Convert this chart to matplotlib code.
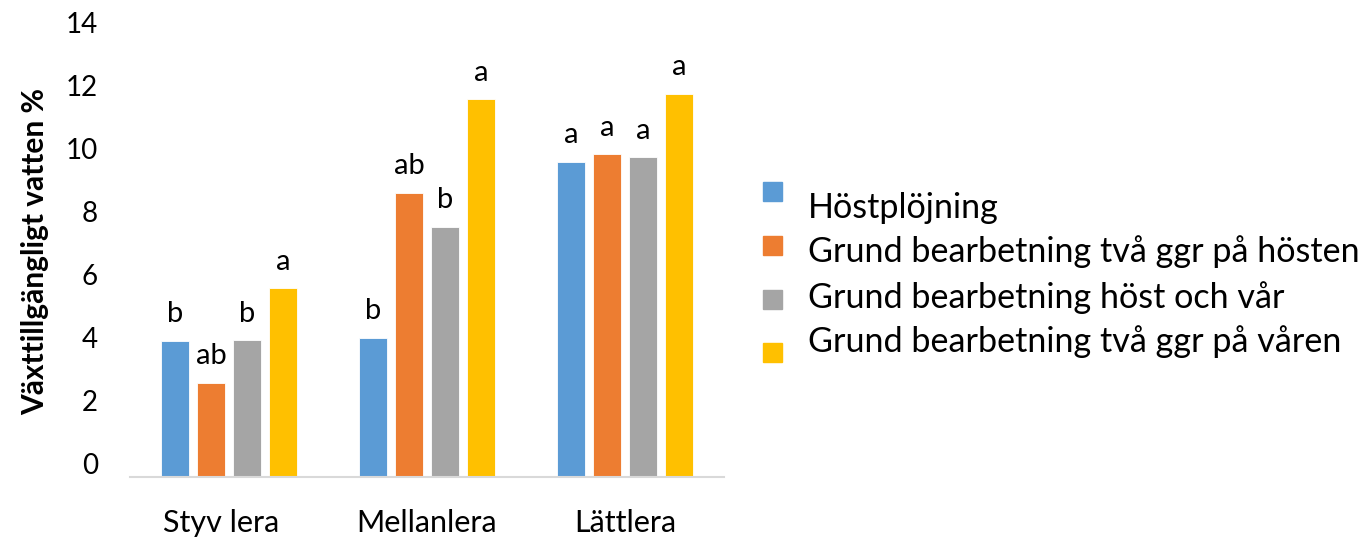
# Växttillgängligt vatten per jordart och bearbetning

import numpy as np
import matplotlib
matplotlib.use("Agg")
import matplotlib.pyplot as plt
from matplotlib.patches import Rectangle
from matplotlib.transforms import ScaledTranslation

plt.rcParams['font.family'] = ['Lato', 'DejaVu Sans']

jordarter = ['Styv lera  ', 'Mellanlera', 'Lättlera']
serier = ['Höstplöjning',
          'Grund bearbetning två ggr på hösten',
          'Grund bearbetning höst och vår',
          'Grund bearbetning två ggr på våren']
hostplojning = [4.32, 4.40, 9.99]
tva_host = [2.97, 9.00, 10.23]
host_var = [4.33, 7.92, 10.14]
tva_var = [5.98, 11.98, 12.15]
bokstaver = [['b', 'b', 'a'],
             ['ab', 'ab', 'a'],
             ['b', 'b', 'a'],
             ['a', 'a', 'a']]
farger = ['#5B9BD5', '#ED7D31', '#A5A5A5', '#FFC000']
yticks = [0, 2, 4, 6, 8, 10, 12, 14]

fig = plt.figure(figsize=(13.69, 5.37), dpi=100)
W, H = 1369, 537
ax = fig.add_axes([130 / W, (537 - 476.7) / H, 594 / W, 441 / H])

x = np.arange(len(jordarter))
bw = 28 / 198
step = 36 / 198
values = [hostplojning, tva_host, host_var, tva_var]
for i, vals in enumerate(values):
    pos = x + (i - 1.5) * step
    ax.bar(pos, vals, width=bw, color=farger[i], edgecolor='white', linewidth=0.6)
    for xp, v, t in zip(pos, vals, bokstaver[i]):
        ax.annotate(t, (xp, v), xytext=(0, 13.5), textcoords='offset points',
                    ha='center', va='baseline', fontsize=21)

ax.set_xlim(-0.5, 2.5)
ax.set_ylim(0, 14)
ax.set_yticks(yticks)
ax.set_xticks(x)
ax.set_xticklabels(jordarter, fontsize=22)
ax.tick_params(axis='x', length=0, pad=23)
ax.tick_params(axis='y', length=0, pad=23, labelsize=20)
for lab in ax.get_yticklabels():
    lab.set_transform(lab.get_transform() + ScaledTranslation(0, 0.13, fig.dpi_scale_trans))
for s in ['top', 'right', 'left']:
    ax.spines[s].set_visible(False)
ax.spines['bottom'].set_color('#D9D9D9')
ax.spines['bottom'].set_linewidth(1.5)

fig.text(35 / W, 1 - 251.5 / H, 'Växttillgängligt vatten %', fontsize=21.5,
         fontweight='bold', rotation=90, ha='center', va='center')

# legend drawn by hand, markers and text do not line up in the original
sq_top = [182.3, 236, 290, 343]
txt_base = [217.7, 262, 307.7, 352]
for i, name in enumerate(serier):
    fig.patches.append(Rectangle((763 / W, 1 - (sq_top[i] + 19) / H), 19 / W, 19 / H,
                                 transform=fig.transFigure, color=farger[i]))
    fig.text(808 / W, 1 - txt_base[i] / H, name, fontsize=24.6, va='baseline', ha='left')

fig.savefig('out.png', dpi=100)
